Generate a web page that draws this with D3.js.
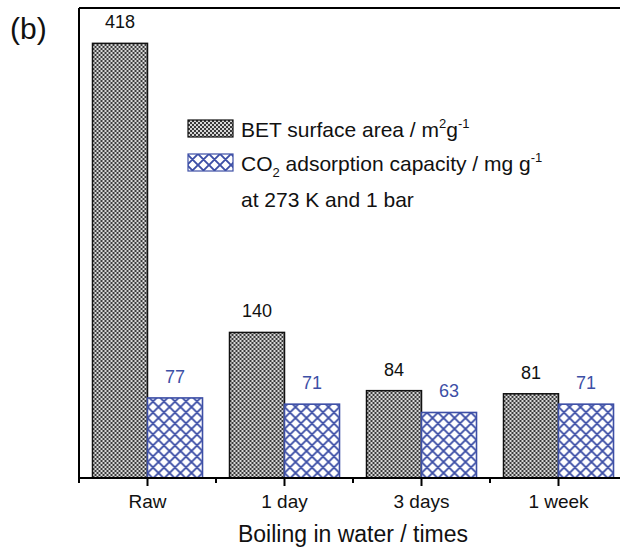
<!DOCTYPE html>
<html>
<head>
<meta charset="utf-8">
<script src="https://cdn.jsdelivr.net/npm/d3@7"></script>
<style>
  html, body { margin: 0; padding: 0; background: #fff; }
  svg { display: block; font-family: "Liberation Sans", Arial, sans-serif; }
</style>
</head>
<body>
<svg id="chart" width="620" height="550"></svg>
<script>
// Boiling-water stability: BET surface area and CO2 uptake
const categories = ["Raw", "1 day", "3 days", "1 week"];
const betArea = [418, 140, 84, 81];       // m2 g-1
const co2Capacity = [77, 71, 63, 71];     // mg g-1 at 273 K, 1 bar
const seriesKeys = ["bet", "co2"];

const blue = "#3d4fa6";
const svg = d3.select("#chart");
const margin = { left: 79, top: 8, bottom: 72 };
const bandW = 137;
const W = 620, H = 550;
const x0 = margin.left, yBase = H - margin.bottom;

const x = d3.scaleBand()
  .domain(categories)
  .range([x0, x0 + bandW * categories.length])
  .paddingInner(0).paddingOuter(0);
const xSub = d3.scaleBand().domain(seriesKeys).range([0, 110]);
const y = d3.scaleLinear().domain([0, 452]).range([yBase, margin.top]);

// fill patterns
const defs = svg.append("defs");
const chk = defs.append("pattern").attr("id", "checker")
  .attr("patternUnits", "userSpaceOnUse").attr("width", 4).attr("height", 4);
chk.append("rect").attr("width", 4).attr("height", 4).attr("fill", "#d8d8d8");
chk.append("rect").attr("width", 2).attr("height", 2).attr("fill", "#3a3a3a");
chk.append("rect").attr("x", 2).attr("y", 2).attr("width", 2).attr("height", 2).attr("fill", "#3a3a3a");

const P = 11;
const hatch = defs.append("pattern").attr("id", "crosshatch")
  .attr("patternUnits", "userSpaceOnUse").attr("width", P).attr("height", P);
hatch.append("rect").attr("width", P).attr("height", P).attr("fill", "#fff");
hatch.append("path")
  .attr("d", `M-1,1 L1,-1 M0,${P} L${P},0 M${P-1},${P+1} L${P+1},${P-1} M-1,${P-1} L1,${P+1} M0,0 L${P},${P} M${P-1},-1 L${P+1},1`)
  .attr("stroke", blue).attr("stroke-width", 1.9);

const rows = categories.map((c, i) => ({ cat: c, bet: betArea[i], co2: co2Capacity[i] }));
const groupOffset = (bandW - 110) / 2;

const groups = svg.append("g").selectAll("g").data(rows).join("g")
  .attr("transform", d => `translate(${x(d.cat) + groupOffset},0)`);

groups.append("rect")
  .attr("x", xSub("bet")).attr("width", xSub.bandwidth())
  .attr("y", d => y(d.bet)).attr("height", d => yBase - y(d.bet))
  .attr("fill", "url(#checker)").attr("stroke", "#111").attr("stroke-width", 1.5);

groups.append("rect")
  .attr("x", xSub("co2")).attr("width", xSub.bandwidth())
  .attr("y", d => y(d.co2)).attr("height", d => yBase - y(d.co2))
  .attr("fill", "url(#crosshatch)").attr("stroke", blue).attr("stroke-width", 1.6);

// value labels
groups.append("text")
  .attr("x", xSub("bet") + xSub.bandwidth() / 2).attr("y", d => y(d.bet) - 15)
  .attr("text-anchor", "middle").attr("font-size", 18).attr("fill", "#111")
  .text(d => d.bet);
groups.append("text")
  .attr("x", xSub("co2") + xSub.bandwidth() / 2).attr("y", d => y(d.co2) - 15)
  .attr("text-anchor", "middle").attr("font-size", 18).attr("fill", blue)
  .text(d => d.co2);

// frame: left and top lines
svg.append("line").attr("x1", x0).attr("x2", x0).attr("y1", margin.top).attr("y2", yBase)
  .attr("stroke", "#000").attr("stroke-width", 2);
svg.append("line").attr("x1", x0).attr("x2", W).attr("y1", margin.top).attr("y2", margin.top)
  .attr("stroke", "#000").attr("stroke-width", 2);

// bottom axis with major ticks at categories, minor at band edges
const xAxis = svg.append("g").attr("transform", `translate(0,${yBase})`)
  .call(d3.axisBottom(x).tickSize(8).tickSizeOuter(0).tickPadding(9));
xAxis.select(".domain").attr("stroke-width", 2).attr("d", `M${x0},0H${W}`);
xAxis.selectAll(".tick line").attr("stroke-width", 2);
xAxis.selectAll(".tick text").attr("font-size", 19).attr("fill", "#111")
  .attr("font-family", "Liberation Sans, Arial, sans-serif");
const edges = d3.range(categories.length + 1).map(i => x0 + i * bandW).filter(v => v <= W);
xAxis.selectAll(".minor").data(edges).join("line").attr("class", "minor")
  .attr("x1", d => d).attr("x2", d => d).attr("y1", 0).attr("y2", 5)
  .attr("stroke", "#000").attr("stroke-width", 2);

svg.append("text").attr("x", 353).attr("y", 542).attr("text-anchor", "middle")
  .attr("font-size", 23).attr("fill", "#111").text("Boiling in water / times");

svg.append("text").attr("x", 10).attr("y", 39).attr("font-size", 30).attr("fill", "#111").text("(b)");

// legend
const lg = svg.append("g").attr("font-size", 21).attr("fill", "#111");
lg.append("rect").attr("x", 188).attr("y", 120).attr("width", 45).attr("height", 17)
  .attr("fill", "url(#checker)").attr("stroke", "#111").attr("stroke-width", 1.2);
const t1 = lg.append("text").attr("x", 241).attr("y", 137);
t1.append("tspan").text("BET surface area / m");
t1.append("tspan").attr("font-size", 13).attr("dy", -9).text("2");
t1.append("tspan").attr("dy", 9).text("g");
t1.append("tspan").attr("font-size", 13).attr("dy", -9).text("-1");

lg.append("rect").attr("x", 188).attr("y", 154).attr("width", 45).attr("height", 17)
  .attr("fill", "url(#crosshatch)").attr("stroke", blue).attr("stroke-width", 1.2);
const t2 = lg.append("text").attr("x", 241).attr("y", 171);
t2.append("tspan").text("CO");
t2.append("tspan").attr("font-size", 13).attr("dy", 6).text("2");
t2.append("tspan").attr("dy", -6).text(" adsorption capacity / mg g");
t2.append("tspan").attr("font-size", 13).attr("dy", -9).text("-1");
lg.append("text").attr("x", 241).attr("y", 207).text("at 273 K and 1 bar");
</script>
</body>
</html>
